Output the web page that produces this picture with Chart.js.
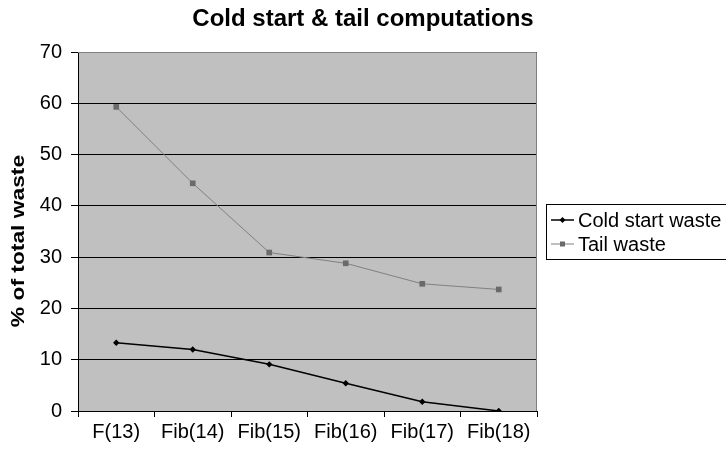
<!DOCTYPE html>
<html>
<head>
<meta charset="utf-8">
<script src="https://cdn.jsdelivr.net/npm/chart.js@4.4.1/dist/chart.umd.min.js"></script>
<style>
  html, body { margin: 0; padding: 0; background: #fff; }
  #chart { display: block; }
</style>
</head>
<body>
<canvas id="chart" width="726" height="454"></canvas>
<script>
const categories = ['F(13)', 'Fib(14)', 'Fib(15)', 'Fib(16)', 'Fib(17)', 'Fib(18)'];
const coldStart = [13.3, 12.0, 9.1, 5.4, 1.8, 0.0];
const tailWaste = [59.3, 44.4, 30.9, 28.8, 24.8, 23.7];
const yTicks = [0, 10, 20, 30, 40, 50, 60, 70];
const chartTitle = 'Cold start & tail computations';
const yTitle = '% of total waste';

const fontFamily = '"Liberation Sans", Arial, sans-serif';

// gray plot background + frame
const plotBg = {
  id: 'plotBg',
  beforeDraw(chart) {
    const { ctx, chartArea: a } = chart;
    ctx.save();
    ctx.fillStyle = '#c0c0c0';
    ctx.fillRect(a.left, a.top, a.right - a.left, a.bottom - a.top);
    ctx.restore();
  },
  afterDatasetsDraw(chart) {
    const { ctx, chartArea: a } = chart;
    ctx.save();
    ctx.strokeStyle = '#808080';
    ctx.lineWidth = 1;
    ctx.beginPath();
    ctx.moveTo(a.left, a.top + 0.5);
    ctx.lineTo(a.right - 0.5, a.top + 0.5);
    ctx.lineTo(a.right - 0.5, a.bottom);
    ctx.stroke();
    ctx.restore();
  }
};

// titles: main one centred on the whole page, axis one beside the y ticks
const titles = {
  id: 'titles',
  afterDraw(chart) {
    const ctx = chart.ctx;
    ctx.save();
    ctx.fillStyle = '#000';
    ctx.textAlign = 'center';
    ctx.textBaseline = 'middle';
    ctx.font = 'bold 24px ' + fontFamily;
    ctx.fillText(chartTitle, chart.width / 2, 19);
    ctx.translate(19, 241);
    ctx.rotate(-Math.PI / 2);
    ctx.scale(1.2, 1);   // the original's axis title is a little stretched
    ctx.font = 'bold 19px ' + fontFamily;
    ctx.fillText(yTitle, 0, 0);
    ctx.restore();
  }
};

// boxed legend to the right, drawn from dataset styles
const boxLegend = {
  id: 'boxLegend',
  afterDraw(chart) {
    const ctx = chart.ctx;
    const x = 546, y = 204, w = 200, h = 55;
    ctx.save();
    ctx.fillStyle = '#fff';
    ctx.fillRect(x, y, w, h);
    ctx.strokeStyle = '#000';
    ctx.lineWidth = 1;
    ctx.strokeRect(x + 0.5, y + 0.5, w, h);
    ctx.font = '20px ' + fontFamily;
    ctx.textBaseline = 'middle';
    chart.data.datasets.forEach((ds, i) => {
      const cy = y + 16 + i * 24;
      ctx.strokeStyle = ds.borderColor;
      ctx.lineWidth = ds.borderWidth;
      ctx.beginPath();
      ctx.moveTo(x + 5, cy);
      ctx.lineTo(x + 28, cy);
      ctx.stroke();
      ctx.fillStyle = ds.pointBackgroundColor;
      if (ds.pointStyle === 'rectRot') {
        ctx.beginPath();
        ctx.moveTo(x + 16.5, cy - 3);
        ctx.lineTo(x + 19.5, cy);
        ctx.lineTo(x + 16.5, cy + 3);
        ctx.lineTo(x + 13.5, cy);
        ctx.closePath();
        ctx.fill();
      } else {
        ctx.fillRect(x + 14, cy - 2.5, 5, 5);
      }
      ctx.fillStyle = '#000';
      ctx.fillText(ds.label, x + 32, cy + 1);
    });
    ctx.restore();
  }
};

const ctx = document.getElementById('chart').getContext('2d');
new Chart(ctx, {
  type: 'line',
  data: {
    labels: categories,
    datasets: [
      {
        label: 'Cold start waste',
        data: coldStart,
        borderColor: '#000',
        borderWidth: 1.5,
        pointStyle: 'rectRot',
        pointRadius: 3.2,
        pointBackgroundColor: '#000',
        pointBorderColor: '#000',
        pointBorderWidth: 0,
        tension: 0
      },
      {
        label: 'Tail waste',
        data: tailWaste,
        borderColor: '#808080',
        borderWidth: 1,
        pointStyle: 'rect',
        pointRadius: 4,
        pointBackgroundColor: '#6a6a6a',
        pointBorderColor: '#6a6a6a',
        pointBorderWidth: 0,
        tension: 0
      }
    ]
  },
  options: {
    responsive: false,
    animation: false,
    layout: { padding: { left: 0, right: 189, top: 52, bottom: 0 } },
    plugins: {
      legend: { display: false },
      tooltip: { enabled: false },
      title: { display: false }
    },
    scales: {
      x: {
        offset: true,
        grid: {
          offset: true,
          drawOnChartArea: false,
          drawTicks: true,
          tickLength: 6,
          color: '#000'
        },
        border: { color: '#000', width: 1 },
        ticks: {
          color: '#000',
          padding: 3,
          maxRotation: 0,
          autoSkip: false,
          font: { family: fontFamily, size: 20 }
        },
        afterFit(s) { s.height = 43; }
      },
      y: {
        min: 0,
        max: 70,
        afterBuildTicks(s) { s.ticks = yTicks.map(v => ({ value: v })); },
        grid: {
          color: '#000',
          lineWidth: 1,
          drawTicks: true,
          tickLength: 7
        },
        border: { color: '#000', width: 1 },
        ticks: {
          color: '#000',
          padding: 9,
          font: { family: fontFamily, size: 20 }
        },
        afterFit(s) { s.width = 78; }
      }
    }
  },
  plugins: [plotBg, titles, boxLegend]
});
</script>
</body>
</html>
